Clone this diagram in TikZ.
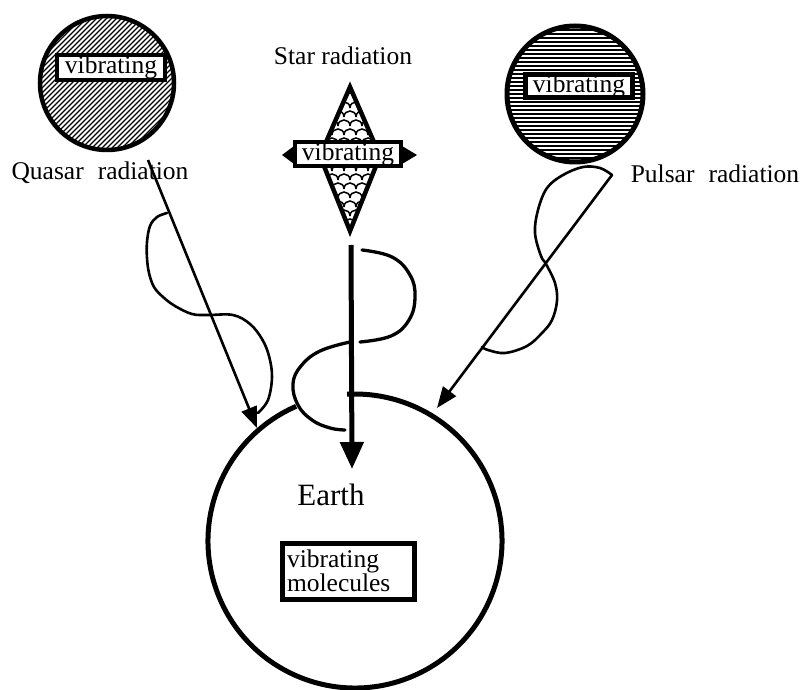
\documentclass[tikz,border=0pt]{standalone}
\usepackage{fontspec}
\setmainfont{Liberation Serif}
\usetikzlibrary{arrows.meta,calc}
\begin{document}
\begin{tikzpicture}[x=1pt,y=-1pt,
  lbl/.style={font=\fontsize{25.5}{25}\selectfont, inner sep=0pt},
  vbox/.style={draw, line width=4.5pt, fill=white, inner sep=0pt, font=\fontsize{25.5}{25}\selectfont},
  body/.style={circle, draw, line width=4.5pt, inner sep=0pt},
  ray/.style={line width=2.6pt, -{Triangle[length=21pt,width=16pt]}},
  wave/.style={line width=2.6pt, line cap=round, line join=round},
]
\useasboundingbox (0,0) rectangle (807,690);

% ---------- Quasar ----------
\node[body, minimum size=134pt] (quasar) at (107,83) {};
\begin{scope}
  \clip (quasar.center) circle[radius=66pt];
  \foreach \i in {-170,-165,...,170}
    \draw[line width=1.3pt] (107+\i-80,83+80) -- (107+\i+80,83-80);
\end{scope}
\node[vbox, minimum width=108pt, minimum height=25pt] (qbox) at (111,67.5) {vibrating};
\node[lbl, anchor=base] (qlabel) at (100,180) {Quasar\hspace{0.55em}radiation};

% ---------- Pulsar ----------
\node[body, line width=5pt, minimum size=136pt] (pulsar) at (575,94) {};
\begin{scope}
  \clip (pulsar.center) circle[radius=67pt];
  \foreach \j in {-72,-68,...,72}
    \draw[line width=1.7pt] (500,94+\j) -- (650,94+\j);
\end{scope}
\node[vbox, line width=5pt, minimum width=107pt, minimum height=23pt] (pbox) at (579,86) {vibrating};
\node[lbl, anchor=base] (plabel) at (715,183) {Pulsar\hspace{0.55em}radiation};

% ---------- Star ----------
\node[lbl, anchor=base] (slabel) at (343,65) {Star radiation};
\coordinate (st) at (350,87);
\coordinate (sl) at (320,156);
\coordinate (sb) at (350,231);
\coordinate (sr) at (380,156);
\begin{scope}
  \clip (st) -- (sl) -- (sb) -- (sr) -- cycle;
  \fill[white] (300,80) rectangle (400,240);
  \foreach \r in {0,...,17} {
    \pgfmathsetmacro\yy{90+9*\r}
    \pgfmathsetmacro\off{mod(\r,2)*6}
    \foreach \c in {0,...,7} {
      \pgfmathsetmacro\xx{308+12*\c+\off}
      \draw[line width=1.5pt] (\xx-6,\yy) .. controls (\xx-6,\yy-8) and (\xx+6,\yy-8) .. (\xx+6,\yy);
    }
  }
\end{scope}
\draw[line width=4.5pt, line join=miter] (st) -- (sl) -- (sb) -- (sr) -- cycle;
\fill (294,146) -- (282,155) -- (294,164) -- cycle;
\fill (402,146) -- (417,155) -- (402,164) -- cycle;
\node[vbox, minimum width=106pt, minimum height=24pt] (sbox) at (348,154) {vibrating};

% ---------- Earth ----------
\node[circle, minimum size=294pt, inner sep=0pt] (earth) at (355,541) {};
\draw[line width=5pt] ($(earth.center)+(113.6:147pt)$) arc[start angle=113.6, end angle=453.1, radius=147pt];
\node[anchor=base, inner sep=0pt, font=\fontsize{31}{31}\selectfont] (elabel) at (331,505) {Earth};
\node[vbox, line width=5pt, minimum width=132pt, minimum height=56pt, text width=122pt, align=left, inner xsep=5pt, font=\fontsize{25.5}{24}\selectfont] (ebox) at (348,571) {vibrating\\molecules};

% ---------- Rays ----------
\coordinate (qs) at (148,160);
\coordinate (qe) at (257,428);
\draw[ray] (qs) -- (qe);

\coordinate (ms) at (351,245);
\coordinate (me) at (352,469);
\draw[line width=5pt, -{Triangle[length=27pt,width=23pt]}] (ms) -- (me);

\coordinate (ps) at (612,175);
\coordinate (pe) at (437,408);
\draw[ray] (ps) -- (pe);

% ---------- Waves ----------
\draw[wave] plot[smooth, tension=0.6] coordinates {
  (167,213) (157,217) (150,226) (147,242) (147,258) (149,273) (154,287) (163,297)
  (175,306) (192,314) (208,315) (233,315) (250,324) (262,339) (269,356) (272,377)
  (268,400) (258,413)};

\draw[wave, line width=3.3pt] plot[smooth, tension=0.7] coordinates {
  (362,250) (392,257) (410,275) (415,297) (409,320) (391,336) (360,342)};
\draw[wave, line width=3.3pt] plot[smooth, tension=0.7] coordinates {
  (350,342) (320,351) (301,366) (293,384) (298,405) (312,420) (330,428) (345,430)};

\draw[wave] plot[smooth, tension=0.6] coordinates {
  (612,175) (600,168) (583,167) (563,175) (547,188) (538,210) (535,233) (541,256)
  (546,264) (555,283) (557,301) (552,320) (542,333) (527,346) (505,353) (488,350) (482,347)};
\end{tikzpicture}
\end{document}
